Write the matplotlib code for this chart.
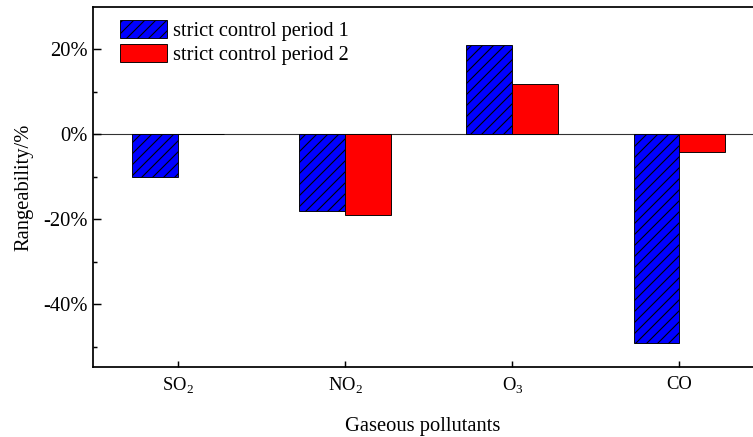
import numpy as np
import matplotlib
matplotlib.use('Agg')
import matplotlib.pyplot as plt
from matplotlib.ticker import MultipleLocator, FuncFormatter

pollutants = [r'SO$_\mathrm{2}$', r'NO$_\mathrm{2}$', r'O$_\mathrm{3}$', 'CO']
period_1 = [-10.0, -18.2, 21.0, -49.1]
period_2 = [0.0, -19.1, 11.8, -4.2]
series_labels = ['strict control period 1', 'strict control period 2']

plt.rcParams['font.family'] = ['Liberation Serif', 'DejaVu Serif']
plt.rcParams['mathtext.fontset'] = 'custom'
plt.rcParams['mathtext.rm'] = 'Liberation Serif'
plt.rcParams['axes.unicode_minus'] = False
plt.rcParams['hatch.linewidth'] = 0.6

DPI = 132
fig = plt.figure(figsize=(753 / DPI, 437 / DPI), dpi=DPI)
ax = fig.add_axes([93 / 753, 1 - 367 / 437, 1 - 93 / 753, 360 / 437])

x = np.arange(len(pollutants))
w = 0.275
ax.bar(x - w / 2, period_1, w, color='#0000ff', edgecolor='black', linewidth=0.5,
       hatch='////', label=series_labels[0])
ax.bar(x + w / 2, period_2, w, color='#ff0000', edgecolor='black', linewidth=0.5,
       label=series_labels[1])
ax.axhline(0, color='#333333', lw=0.6, zorder=0.5)

ax.set_xlim(-0.51, 3.44)
ax.set_ylim(-54.8, 29.9)
ax.set_xticks(x)
ax.set_xticklabels(pollutants, fontsize=10.2)
ax.yaxis.set_major_locator(MultipleLocator(20))
ax.yaxis.set_minor_locator(MultipleLocator(10))
ax.yaxis.set_major_formatter(FuncFormatter(lambda v, p: f'{v:.0f}%'))
ax.tick_params(axis='y', labelsize=11.2, direction='in', length=4.4, width=0.8, pad=3)
ax.tick_params(axis='y', which='minor', direction='in', length=2.2, width=0.8)
ax.tick_params(axis='x', direction='in', length=3.3, width=0.8, pad=5)
ax.spines['right'].set_visible(False)
for s in ['left', 'top', 'bottom']:
    ax.spines[s].set_linewidth(0.95)

ax.set_xlabel('Gaseous pollutants', fontsize=11.2, labelpad=11)
ax.set_ylabel('Rangeability/%', fontsize=11.2)
ax.yaxis.set_label_coords(33 / 753, 1 - 187 / 437, transform=fig.transFigure)

ax.legend(loc='upper left', bbox_to_anchor=(120 / 753, 1 - 20 / 437),
          bbox_transform=fig.transFigure, frameon=False, fontsize=11.1,
          handlelength=2.3, handleheight=1.0, handletextpad=0.3,
          labelspacing=0.15, borderpad=0, borderaxespad=0)

fig.savefig('out.png', dpi=DPI)
